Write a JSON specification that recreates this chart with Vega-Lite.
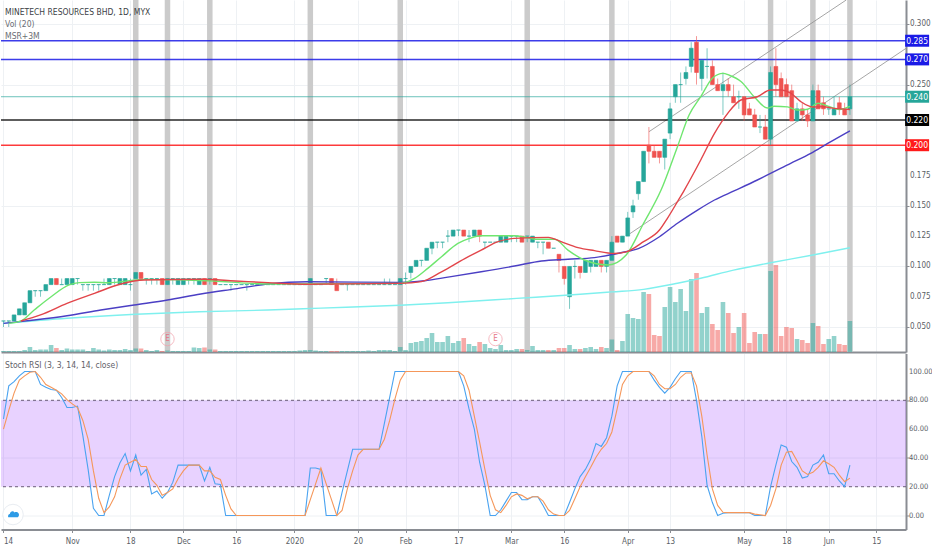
{
  "$schema": "https://vega.github.io/schema/vega-lite/v6.json",
  "background": "white",
  "padding": {"left": 0, "top": -3, "right": 0, "bottom": 0},
  "spacing": 1.5,
  "bounds": "flush",
  "config": {
    "view": {"stroke": null},
    "axis": {"labelFont": "DejaVu Sans Condensed, Roboto", "labelFontSize": 8, "labelColor": "#5a5e66", "title": null, "gridColor": "#eef1f4", "domainColor": "#8a8d93", "domainWidth": 2, "tickColor": "#8a8d93", "tickSize": 3, "labelPadding": 1},
    "text": {"font": "DejaVu Sans Condensed, Roboto"}
  },
  "datasets": {
    "bars": [
      {"n":0,"o":0.055,"h":0.055,"l":0.05,"c":0.055,"v":1,"k":67,"d":60},
      {"n":1,"o":0.055,"h":0.055,"l":0.05,"c":0.055,"v":1,"k":90,"d":73},
      {"n":2,"o":0.055,"h":0.06,"l":0.055,"c":0.06,"v":1,"k":93,"d":85},
      {"n":3,"o":0.06,"h":0.065,"l":0.06,"c":0.065,"v":1,"k":97,"d":94},
      {"n":4,"o":0.06,"h":0.07,"l":0.06,"c":0.07,"v":2,"k":100,"d":97},
      {"n":5,"o":0.07,"h":0.08,"l":0.07,"c":0.08,"v":5,"k":100,"d":99.5},
      {"n":6,"o":0.08,"h":0.08,"l":0.075,"c":0.08,"v":2,"k":100,"d":100},
      {"n":7,"o":0.08,"h":0.08,"l":0.075,"c":0.08,"v":2.5,"k":91,"d":96},
      {"n":8,"o":0.08,"h":0.085,"l":0.08,"c":0.085,"v":2.5,"k":89,"d":91},
      {"n":9,"o":0.085,"h":0.09,"l":0.085,"c":0.09,"v":7,"k":87.5,"d":89},
      {"n":10,"o":0.09,"h":0.09,"l":0.085,"c":0.085,"v":4,"k":87,"d":87},
      {"n":11,"o":0.085,"h":0.09,"l":0.085,"c":0.085,"v":2,"k":82,"d":84.5},
      {"n":12,"o":0.085,"h":0.09,"l":0.085,"c":0.09,"v":3.5,"k":75,"d":80.5},
      {"n":13,"o":0.085,"h":0.09,"l":0.085,"c":0.09,"v":2.5,"k":75,"d":77.5},
      {"n":14,"o":0.09,"h":0.09,"l":0.085,"c":0.09,"v":2.5,"k":76,"d":75},
      {"n":15,"o":0.085,"h":0.085,"l":0.08,"c":0.085,"v":2.5,"k":55.5,"d":66},
      {"n":16,"o":0.085,"h":0.085,"l":0.08,"c":0.085,"v":1,"k":32,"d":53},
      {"n":17,"o":0.085,"h":0.085,"l":0.08,"c":0.085,"v":4,"k":5,"d":31},
      {"n":18,"o":0.085,"h":0.085,"l":0.08,"c":0.085,"v":2.5,"k":0,"d":12},
      {"n":19,"o":0.085,"h":0.09,"l":0.085,"c":0.085,"v":1.5,"k":0,"d":2},
      {"n":20,"o":0.085,"h":0.09,"l":0.085,"c":0.09,"v":2.5,"k":14,"d":6},
      {"n":21,"o":0.09,"h":0.09,"l":0.085,"c":0.09,"v":2,"k":27,"d":13},
      {"n":22,"o":0.085,"h":0.09,"l":0.085,"c":0.09,"v":2,"k":36.5,"d":25.5},
      {"n":23,"o":0.085,"h":0.09,"l":0.085,"c":0.09,"v":3,"k":43,"d":35},
      {"n":24,"o":0.085,"h":0.09,"l":0.08,"c":0.085,"v":2,"k":31,"d":37},
      {"n":25,"o":0.09,"h":0.095,"l":0.09,"c":0.095,"v":3.5,"k":42,"d":39},
      {"n":26,"o":0.095,"h":0.095,"l":0.09,"c":0.09,"v":3.5,"k":28,"d":34},
      {"n":27,"o":0.09,"h":0.09,"l":0.085,"c":0.09,"v":2,"k":32,"d":34},
      {"n":28,"o":0.09,"h":0.09,"l":0.085,"c":0.09,"v":1,"k":15,"d":25},
      {"n":29,"o":0.09,"h":0.09,"l":0.085,"c":0.09,"v":2,"k":17,"d":21},
      {"n":30,"o":0.09,"h":0.09,"l":0.085,"c":0.085,"v":1,"k":12,"d":14},
      {"n":31,"o":0.085,"h":0.09,"l":0.085,"c":0.09,"v":1.5,"k":16,"d":16},
      {"n":32,"o":0.09,"h":0.09,"l":0.085,"c":0.09,"v":1,"k":23,"d":18.5},
      {"n":33,"o":0.085,"h":0.09,"l":0.085,"c":0.09,"v":1,"k":35,"d":25.5},
      {"n":34,"o":0.085,"h":0.09,"l":0.085,"c":0.09,"v":1,"k":35,"d":31},
      {"n":35,"o":0.09,"h":0.09,"l":0.085,"c":0.09,"v":1,"k":35,"d":35},
      {"n":36,"o":0.09,"h":0.09,"l":0.085,"c":0.09,"v":4.5,"k":35,"d":35},
      {"n":37,"o":0.085,"h":0.09,"l":0.085,"c":0.09,"v":4,"k":35,"d":35},
      {"n":38,"o":0.09,"h":0.09,"l":0.085,"c":0.085,"v":4.5,"k":24,"d":31},
      {"n":39,"o":0.09,"h":0.09,"l":0.085,"c":0.09,"v":2.5,"k":33.5,"d":31},
      {"n":40,"o":0.09,"h":0.09,"l":0.085,"c":0.085,"v":2.5,"k":22,"d":26.5},
      {"n":41,"o":0.085,"h":0.085,"l":0.085,"c":0.085,"v":1,"k":21.5,"d":25},
      {"n":42,"o":0.085,"h":0.085,"l":0.085,"c":0.085,"v":1,"k":0,"d":14},
      {"n":43,"o":0.085,"h":0.085,"l":0.08,"c":0.085,"v":1,"k":0,"d":4.6},
      {"n":44,"o":0.085,"h":0.085,"l":0.085,"c":0.085,"v":1,"k":0,"d":0},
      {"n":45,"o":0.085,"h":0.085,"l":0.085,"c":0.085,"v":1,"k":0,"d":0},
      {"n":46,"o":0.085,"h":0.085,"l":0.08,"c":0.085,"v":1,"k":0,"d":0},
      {"n":47,"o":0.085,"h":0.085,"l":0.085,"c":0.085,"v":1,"k":0,"d":0},
      {"n":48,"o":0.085,"h":0.085,"l":0.085,"c":0.085,"v":1,"k":0,"d":0},
      {"n":49,"o":0.085,"h":0.085,"l":0.085,"c":0.085,"v":1,"k":0,"d":0},
      {"n":50,"o":0.085,"h":0.085,"l":0.085,"c":0.085,"v":1,"k":0,"d":0},
      {"n":51,"o":0.085,"h":0.085,"l":0.085,"c":0.085,"v":1,"k":0,"d":0},
      {"n":52,"o":0.085,"h":0.085,"l":0.085,"c":0.085,"v":1,"k":0,"d":0},
      {"n":53,"o":0.085,"h":0.085,"l":0.085,"c":0.085,"v":1,"k":0,"d":0},
      {"n":54,"o":0.085,"h":0.085,"l":0.085,"c":0.085,"v":1,"k":0,"d":0},
      {"n":55,"o":0.085,"h":0.085,"l":0.085,"c":0.085,"v":1,"k":0,"d":0},
      {"n":56,"o":0.085,"h":0.085,"l":0.085,"c":0.085,"v":1.5,"k":0,"d":0},
      {"n":57,"o":0.085,"h":0.085,"l":0.085,"c":0.085,"v":2,"k":0,"d":0},
      {"n":58,"o":0.085,"h":0.09,"l":0.085,"c":0.09,"v":2,"k":33,"d":11},
      {"n":59,"o":0.085,"h":0.085,"l":0.085,"c":0.085,"v":1.5,"k":33,"d":22},
      {"n":60,"o":0.085,"h":0.085,"l":0.085,"c":0.085,"v":1,"k":32,"d":33},
      {"n":61,"o":0.09,"h":0.09,"l":0.085,"c":0.09,"v":1,"k":0,"d":22},
      {"n":62,"o":0.09,"h":0.09,"l":0.085,"c":0.085,"v":1,"k":0,"d":11},
      {"n":63,"o":0.085,"h":0.09,"l":0.08,"c":0.08,"v":1,"k":0,"d":0},
      {"n":64,"o":0.085,"h":0.085,"l":0.085,"c":0.085,"v":1,"k":16,"d":3.5},
      {"n":65,"o":0.085,"h":0.085,"l":0.08,"c":0.085,"v":1,"k":31,"d":18.5},
      {"n":66,"o":0.085,"h":0.085,"l":0.085,"c":0.085,"v":1,"k":46,"d":31},
      {"n":67,"o":0.085,"h":0.085,"l":0.085,"c":0.085,"v":1,"k":46,"d":42},
      {"n":68,"o":0.085,"h":0.085,"l":0.085,"c":0.085,"v":1,"k":46,"d":46},
      {"n":69,"o":0.085,"h":0.085,"l":0.085,"c":0.085,"v":1.5,"k":46,"d":46},
      {"n":70,"o":0.085,"h":0.085,"l":0.085,"c":0.085,"v":1,"k":46,"d":46},
      {"n":71,"o":0.085,"h":0.085,"l":0.085,"c":0.085,"v":2,"k":46,"d":46},
      {"n":72,"o":0.085,"h":0.09,"l":0.085,"c":0.085,"v":2,"k":64,"d":53},
      {"n":73,"o":0.085,"h":0.09,"l":0.085,"c":0.085,"v":2,"k":82,"d":66},
      {"n":74,"o":0.085,"h":0.085,"l":0.085,"c":0.085,"v":1,"k":100,"d":81},
      {"n":75,"o":0.085,"h":0.09,"l":0.085,"c":0.09,"v":5,"k":100,"d":94},
      {"n":76,"o":0.09,"h":0.095,"l":0.085,"c":0.09,"v":2,"k":100,"d":100},
      {"n":77,"o":0.095,"h":0.1,"l":0.09,"c":0.1,"v":9,"k":100,"d":100},
      {"n":78,"o":0.1,"h":0.105,"l":0.1,"c":0.105,"v":10,"k":100,"d":100},
      {"n":79,"o":0.105,"h":0.105,"l":0.1,"c":0.105,"v":11,"k":100,"d":100},
      {"n":80,"o":0.105,"h":0.115,"l":0.105,"c":0.115,"v":14,"k":100,"d":100},
      {"n":81,"o":0.115,"h":0.12,"l":0.11,"c":0.12,"v":19,"k":100,"d":100},
      {"n":82,"o":0.12,"h":0.12,"l":0.115,"c":0.12,"v":10,"k":100,"d":100},
      {"n":83,"o":0.12,"h":0.12,"l":0.115,"c":0.12,"v":10,"k":100,"d":100},
      {"n":84,"o":0.125,"h":0.13,"l":0.12,"c":0.125,"v":16,"k":100,"d":100},
      {"n":85,"o":0.125,"h":0.13,"l":0.125,"c":0.13,"v":9,"k":100,"d":100},
      {"n":86,"o":0.13,"h":0.13,"l":0.125,"c":0.13,"v":11,"k":100,"d":100},
      {"n":87,"o":0.13,"h":0.13,"l":0.125,"c":0.125,"v":14,"k":90,"d":97},
      {"n":88,"o":0.125,"h":0.13,"l":0.12,"c":0.125,"v":8,"k":74,"d":87},
      {"n":89,"o":0.125,"h":0.13,"l":0.125,"c":0.13,"v":6,"k":60,"d":69},
      {"n":90,"o":0.13,"h":0.13,"l":0.12,"c":0.125,"v":10,"k":37,"d":51},
      {"n":91,"o":0.12,"h":0.12,"l":0.115,"c":0.12,"v":8,"k":21,"d":32},
      {"n":92,"o":0.12,"h":0.12,"l":0.12,"c":0.12,"v":4,"k":0,"d":14},
      {"n":93,"o":0.12,"h":0.12,"l":0.12,"c":0.12,"v":3,"k":0,"d":4},
      {"n":94,"o":0.12,"h":0.125,"l":0.12,"c":0.125,"v":7,"k":4,"d":2},
      {"n":95,"o":0.12,"h":0.125,"l":0.12,"c":0.125,"v":2,"k":10,"d":7},
      {"n":96,"o":0.125,"h":0.125,"l":0.12,"c":0.125,"v":2,"k":16,"d":13},
      {"n":97,"o":0.125,"h":0.125,"l":0.12,"c":0.125,"v":3,"k":16,"d":15},
      {"n":98,"o":0.125,"h":0.125,"l":0.12,"c":0.12,"v":3,"k":11,"d":14},
      {"n":99,"o":0.125,"h":0.125,"l":0.12,"c":0.125,"v":2,"k":11,"d":11.6},
      {"n":100,"o":0.12,"h":0.125,"l":0.12,"c":0.125,"v":6,"k":13,"d":13},
      {"n":101,"o":0.12,"h":0.12,"l":0.115,"c":0.12,"v":2,"k":13,"d":13},
      {"n":102,"o":0.12,"h":0.12,"l":0.11,"c":0.12,"v":2,"k":7,"d":10},
      {"n":103,"o":0.12,"h":0.12,"l":0.115,"c":0.115,"v":2,"k":0,"d":4},
      {"n":104,"o":0.115,"h":0.115,"l":0.115,"c":0.115,"v":2,"k":0,"d":1},
      {"n":105,"o":0.11,"h":0.11,"l":0.095,"c":0.105,"v":4,"k":0,"d":0},
      {"n":106,"o":0.1,"h":0.1,"l":0.085,"c":0.09,"v":4,"k":0,"d":0},
      {"n":107,"o":0.075,"h":0.1,"l":0.065,"c":0.1,"v":7,"k":9,"d":3.5},
      {"n":108,"o":0.1,"h":0.105,"l":0.09,"c":0.1,"v":3,"k":18.5,"d":11.6},
      {"n":109,"o":0.1,"h":0.1,"l":0.09,"c":0.095,"v":3,"k":27,"d":20},
      {"n":110,"o":0.095,"h":0.105,"l":0.095,"c":0.105,"v":4,"k":32,"d":27},
      {"n":111,"o":0.1,"h":0.105,"l":0.095,"c":0.105,"v":5,"k":39,"d":33.5},
      {"n":112,"o":0.1,"h":0.105,"l":0.1,"c":0.105,"v":3,"k":50,"d":40.5},
      {"n":113,"o":0.105,"h":0.105,"l":0.095,"c":0.1,"v":5,"k":48,"d":46},
      {"n":114,"o":0.1,"h":0.105,"l":0.095,"c":0.105,"v":4,"k":54,"d":50},
      {"n":115,"o":0.105,"h":0.125,"l":0.105,"c":0.12,"v":12.5,"k":69,"d":58},
      {"n":116,"o":0.125,"h":0.125,"l":0.12,"c":0.12,"v":2,"k":90,"d":74},
      {"n":117,"o":0.12,"h":0.125,"l":0.12,"c":0.125,"v":11,"k":100,"d":91},
      {"n":118,"o":0.125,"h":0.145,"l":0.125,"c":0.14,"v":38,"k":100,"d":97},
      {"n":119,"o":0.145,"h":0.155,"l":0.14,"c":0.15,"v":34,"k":100,"d":100},
      {"n":120,"o":0.16,"h":0.17,"l":0.155,"c":0.17,"v":33,"k":100,"d":100},
      {"n":121,"o":0.17,"h":0.195,"l":0.17,"c":0.195,"v":60,"k":100,"d":100},
      {"n":122,"o":0.2,"h":0.215,"l":0.185,"c":0.195,"v":58,"k":100,"d":100},
      {"n":123,"o":0.195,"h":0.2,"l":0.19,"c":0.19,"v":17,"k":94,"d":97},
      {"n":124,"o":0.195,"h":0.195,"l":0.185,"c":0.19,"v":16,"k":89,"d":91},
      {"n":125,"o":0.19,"h":0.205,"l":0.18,"c":0.205,"v":45,"k":85,"d":88},
      {"n":126,"o":0.21,"h":0.235,"l":0.205,"c":0.23,"v":65,"k":89,"d":88},
      {"n":127,"o":0.24,"h":0.25,"l":0.235,"c":0.25,"v":50,"k":95,"d":91},
      {"n":128,"o":0.25,"h":0.26,"l":0.235,"c":0.25,"v":63,"k":100,"d":96},
      {"n":129,"o":0.255,"h":0.265,"l":0.25,"c":0.26,"v":41,"k":100,"d":99},
      {"n":130,"o":0.265,"h":0.285,"l":0.26,"c":0.28,"v":73,"k":100,"d":99},
      {"n":131,"o":0.285,"h":0.29,"l":0.25,"c":0.26,"v":79,"k":80,"d":90},
      {"n":132,"o":0.255,"h":0.27,"l":0.245,"c":0.27,"v":39,"k":55,"d":69},
      {"n":133,"o":0.265,"h":0.28,"l":0.255,"c":0.265,"v":45,"k":21,"d":42},
      {"n":134,"o":0.265,"h":0.27,"l":0.25,"c":0.25,"v":28,"k":9,"d":18.5},
      {"n":135,"o":0.25,"h":0.255,"l":0.245,"c":0.245,"v":22,"k":0,"d":7},
      {"n":136,"o":0.245,"h":0.26,"l":0.225,"c":0.25,"v":50,"k":1.6,"d":2.3},
      {"n":137,"o":0.25,"h":0.255,"l":0.24,"c":0.245,"v":39,"k":2,"d":2},
      {"n":138,"o":0.24,"h":0.25,"l":0.235,"c":0.235,"v":19,"k":2,"d":2},
      {"n":139,"o":0.24,"h":0.245,"l":0.23,"c":0.24,"v":25,"k":2,"d":2},
      {"n":140,"o":0.24,"h":0.24,"l":0.22,"c":0.225,"v":39,"k":2,"d":2},
      {"n":141,"o":0.23,"h":0.235,"l":0.225,"c":0.225,"v":9,"k":2,"d":2},
      {"n":142,"o":0.225,"h":0.23,"l":0.215,"c":0.215,"v":20,"k":0,"d":1},
      {"n":143,"o":0.215,"h":0.225,"l":0.21,"c":0.215,"v":18,"k":0,"d":0.5},
      {"n":144,"o":0.215,"h":0.225,"l":0.205,"c":0.205,"v":18,"k":0,"d":0},
      {"n":145,"o":0.205,"h":0.265,"l":0.2,"c":0.26,"v":81,"k":20,"d":7},
      {"n":146,"o":0.265,"h":0.28,"l":0.24,"c":0.25,"v":87,"k":35,"d":18.5},
      {"n":147,"o":0.255,"h":0.26,"l":0.24,"c":0.24,"v":16,"k":49,"d":35},
      {"n":148,"o":0.25,"h":0.255,"l":0.24,"c":0.24,"v":25,"k":47.5,"d":44},
      {"n":149,"o":0.245,"h":0.25,"l":0.22,"c":0.22,"v":24,"k":37.5,"d":44.5},
      {"n":150,"o":0.22,"h":0.235,"l":0.22,"c":0.23,"v":13,"k":33.5,"d":38},
      {"n":151,"o":0.23,"h":0.235,"l":0.22,"c":0.225,"v":12,"k":26,"d":31},
      {"n":152,"o":0.225,"h":0.23,"l":0.215,"c":0.22,"v":9,"k":27,"d":28.5},
      {"n":153,"o":0.22,"h":0.25,"l":0.22,"c":0.245,"v":29,"k":35,"d":30},
      {"n":154,"o":0.245,"h":0.25,"l":0.23,"c":0.23,"v":26,"k":37,"d":33.5},
      {"n":155,"o":0.235,"h":0.24,"l":0.225,"c":0.23,"v":8,"k":42,"d":38},
      {"n":156,"o":0.23,"h":0.23,"l":0.225,"c":0.23,"v":13,"k":29,"d":36},
      {"n":157,"o":0.225,"h":0.24,"l":0.225,"c":0.23,"v":16,"k":29,"d":33.5},
      {"n":158,"o":0.235,"h":0.24,"l":0.225,"c":0.23,"v":8,"k":24,"d":28},
      {"n":159,"o":0.23,"h":0.235,"l":0.225,"c":0.225,"v":7,"k":20,"d":23.5},
      {"n":160,"o":0.23,"h":0.25,"l":0.225,"c":0.24,"v":31,"k":35,"d":26}
    ],
    "ma": [
      {"ma":"MA200","n":0,"p":0.053},{"ma":"MA200","n":12,"p":0.0572},{"ma":"MA200","n":25,"p":0.0605},{"ma":"MA200","n":37,"p":0.0626},{"ma":"MA200","n":50,"p":0.064},{"ma":"MA200","n":60,"p":0.0656},{"ma":"MA200","n":75,"p":0.068},{"ma":"MA200","n":84,"p":0.07},{"ma":"MA200","n":97,"p":0.0736},{"ma":"MA200","n":109,"p":0.077},{"ma":"MA200","n":115,"p":0.079},{"ma":"MA200","n":121,"p":0.0811},{"ma":"MA200","n":127.4,"p":0.0861},{"ma":"MA200","n":131.8,"p":0.0902},{"ma":"MA200","n":138,"p":0.097},{"ma":"MA200","n":145,"p":0.103},{"ma":"MA200","n":153,"p":0.1094},{"ma":"MA200","n":160,"p":0.1154},
      {"ma":"MA100","n":0,"p":0.053},{"ma":"MA100","n":5.8,"p":0.0558},{"ma":"MA100","n":12,"p":0.0593},{"ma":"MA100","n":18.4,"p":0.064},{"ma":"MA100","n":24.7,"p":0.0682},{"ma":"MA100","n":31,"p":0.0723},{"ma":"MA100","n":37.3,"p":0.0773},{"ma":"MA100","n":43.8,"p":0.0815},{"ma":"MA100","n":50,"p":0.0855},{"ma":"MA100","n":57.5,"p":0.0874},{"ma":"MA100","n":75,"p":0.0868},{"ma":"MA100","n":79.6,"p":0.0882},{"ma":"MA100","n":84,"p":0.0912},{"ma":"MA100","n":90.3,"p":0.0956},{"ma":"MA100","n":96.6,"p":0.1003},{"ma":"MA100","n":101.7,"p":0.1045},{"ma":"MA100","n":106.7,"p":0.1059},{"ma":"MA100","n":111.7,"p":0.1073},{"ma":"MA100","n":116.7,"p":0.1113},{"ma":"MA100","n":120,"p":0.1147},{"ma":"MA100","n":124,"p":0.1245},{"ma":"MA100","n":127.4,"p":0.1356},{"ma":"MA100","n":131.2,"p":0.1465},{"ma":"MA100","n":134.4,"p":0.1548},{"ma":"MA100","n":138.2,"p":0.1625},{"ma":"MA100","n":142.5,"p":0.1713},{"ma":"MA100","n":148.8,"p":0.185},{"ma":"MA100","n":152.6,"p":0.1933},{"ma":"MA100","n":155.8,"p":0.2015},{"ma":"MA100","n":160,"p":0.2119},
      {"ma":"MA10","n":1,"p":0.053},{"ma":"MA10","n":3.3,"p":0.055},{"ma":"MA10","n":5.8,"p":0.064},{"ma":"MA10","n":9,"p":0.075},{"ma":"MA10","n":12.4,"p":0.0847},{"ma":"MA10","n":14.3,"p":0.0866},{"ma":"MA10","n":17.2,"p":0.087},{"ma":"MA10","n":19.7,"p":0.0865},{"ma":"MA10","n":26.6,"p":0.0893},{"ma":"MA10","n":39.8,"p":0.088},{"ma":"MA10","n":46,"p":0.0862},{"ma":"MA10","n":50,"p":0.0855},{"ma":"MA10","n":75,"p":0.086},{"ma":"MA10","n":77.7,"p":0.0901},{"ma":"MA10","n":80.2,"p":0.0984},{"ma":"MA10","n":82.8,"p":0.108},{"ma":"MA10","n":85.9,"p":0.119},{"ma":"MA10","n":88.1,"p":0.1231},{"ma":"MA10","n":90.3,"p":0.1253},{"ma":"MA10","n":96.6,"p":0.1253},{"ma":"MA10","n":101,"p":0.1224},{"ma":"MA10","n":104.2,"p":0.1224},{"ma":"MA10","n":106.7,"p":0.1135},{"ma":"MA10","n":109.8,"p":0.1053},{"ma":"MA10","n":114.3,"p":0.1012},{"ma":"MA10","n":117.7,"p":0.1094},{"ma":"MA10","n":121,"p":0.1356},{"ma":"MA10","n":124.3,"p":0.163},{"ma":"MA10","n":127.4,"p":0.1988},{"ma":"MA10","n":129.6,"p":0.2249},{"ma":"MA10","n":131.8,"p":0.24},{"ma":"MA10","n":134,"p":0.2553},{"ma":"MA10","n":136,"p":0.2593},{"ma":"MA10","n":137.2,"p":0.2577},{"ma":"MA10","n":139.4,"p":0.2526},{"ma":"MA10","n":141.9,"p":0.24},{"ma":"MA10","n":144.4,"p":0.2307},{"ma":"MA10","n":145.7,"p":0.2322},{"ma":"MA10","n":148.2,"p":0.2316},{"ma":"MA10","n":150,"p":0.229},{"ma":"MA10","n":152,"p":0.2297},{"ma":"MA10","n":154,"p":0.2346},{"ma":"MA10","n":156,"p":0.232},{"ma":"MA10","n":158,"p":0.2295},{"ma":"MA10","n":160,"p":0.232},
      {"ma":"MA20","n":3.3,"p":0.055},{"ma":"MA20","n":7,"p":0.06},{"ma":"MA20","n":12,"p":0.0695},{"ma":"MA20","n":17.2,"p":0.0778},{"ma":"MA20","n":22.2,"p":0.0855},{"ma":"MA20","n":26.6,"p":0.0888},{"ma":"MA20","n":37.3,"p":0.0894},{"ma":"MA20","n":43.8,"p":0.088},{"ma":"MA20","n":50,"p":0.0866},{"ma":"MA20","n":57.5,"p":0.0853},{"ma":"MA20","n":75,"p":0.086},{"ma":"MA20","n":79,"p":0.0875},{"ma":"MA20","n":82.8,"p":0.0956},{"ma":"MA20","n":87.2,"p":0.1065},{"ma":"MA20","n":90.3,"p":0.1135},{"ma":"MA20","n":93.5,"p":0.1204},{"ma":"MA20","n":96.6,"p":0.1231},{"ma":"MA20","n":103,"p":0.124},{"ma":"MA20","n":105.4,"p":0.1204},{"ma":"MA20","n":108.6,"p":0.1155},{"ma":"MA20","n":111.7,"p":0.113},{"ma":"MA20","n":115.4,"p":0.1107},{"ma":"MA20","n":117.7,"p":0.112},{"ma":"MA20","n":121,"p":0.1204},{"ma":"MA20","n":124,"p":0.13},{"ma":"MA20","n":125.5,"p":0.1397},{"ma":"MA20","n":127.4,"p":0.1534},{"ma":"MA20","n":128.7,"p":0.163},{"ma":"MA20","n":131.8,"p":0.1878},{"ma":"MA20","n":134.4,"p":0.2098},{"ma":"MA20","n":136.9,"p":0.2263},{"ma":"MA20","n":139.4,"p":0.2373},{"ma":"MA20","n":142.5,"p":0.24},{"ma":"MA20","n":145,"p":0.2455},{"ma":"MA20","n":147,"p":0.2455},{"ma":"MA20","n":148.8,"p":0.243},{"ma":"MA20","n":150.7,"p":0.236},{"ma":"MA20","n":153,"p":0.2315},{"ma":"MA20","n":155,"p":0.2317},{"ma":"MA20","n":157,"p":0.2304},{"ma":"MA20","n":160,"p":0.2295}
    ],
    "trend": [
      {"id":"upper","n":122,"p":0.2111},{"id":"upper","n":159.3,"p":0.3198},
      {"id":"lower","n":118.3,"p":0.1267},{"id":"lower","n":170.6,"p":0.2799}
    ],
    "levels": [
      {"level":0.2862,"label":"0.285"},
      {"level":0.2708,"label":"0.270"},
      {"level":0.24,"label":"0.240"},
      {"level":0.2208,"label":"0.220"},
      {"level":0.2,"label":"0.200"}
    ],
    "priceTicks": [{"p":0.05},{"p":0.075},{"p":0.1},{"p":0.125},{"p":0.15},{"p":0.175},{"p":0.25},{"p":0.3}],
    "rsiTicks": [{"v":0},{"v":20},{"v":40},{"v":60},{"v":80},{"v":100}],
    "sessions": [{"n":25},{"n":31},{"n":39},{"n":58},{"n":75},{"n":99},{"n":115},{"n":145},{"n":153},{"n":160}],
    "earnings": [{"n":31,"p":0.0401,"t":"E"},{"n":93,"p":0.0401,"t":"E"}]
  },
  "vconcat": [
    {
      "width": 905,
      "height": 352,
      "resolve": {"scale": {"y": "independent"}},
      "layer": [
        {
          "data": {"name": "sessions"},
          "mark": {"type": "rule", "color": "#cbcbcb", "strokeWidth": 5.5},
          "encoding": {
            "x": {"field": "n", "type": "quantitative", "scale": {"domain": [-0.47, 170.6], "nice": false, "zero": false, "padding": 0},
              "axis": {"values": [0,13,24,34,44,55,67,76,86,96,106,118,126,140,148,156,165], "labels": false, "ticks": false, "grid": true}}
          }
        },
        {
          "data": {"name": "bars"},
          "mark": {"type": "bar", "size": 4.6, "opacity": 0.5},
          "encoding": {
            "x": {"field": "n", "type": "quantitative"},
            "y": {"field": "v", "type": "quantitative", "scale": {"domain": [0, 352]}, "axis": null},
            "color": {"condition": {"test": "datum.c >= datum.o", "value": "#26a69a"}, "value": "#ef5350"}
          }
        },
        {
          "layer": [
            {
              "data": {"name": "trend"},
              "mark": {"type": "line", "color": "#8f8f8f", "strokeWidth": 0.8, "clip": true},
              "encoding": {
                "x": {"field": "n", "type": "quantitative"},
                "y": {"field": "p", "type": "quantitative", "scale": {"domain": [0.0294, 0.3198], "nice": false, "zero": false},
                  "axis": {"orient": "right", "values": [0.05,0.075,0.1,0.125,0.15,0.175,0.2,0.225,0.25,0.275,0.3], "labels": false, "grid": true}},
                "detail": {"field": "id"}
              }
            },
            {
              "data": {"name": "levels"},
              "mark": {"type": "rule", "opacity": 0.85},
              "encoding": {
                "y": {"field": "level", "type": "quantitative"},
                "color": {"field": "label", "type": "nominal", "legend": null,
                  "scale": {"domain": ["0.285","0.270","0.240","0.220","0.200","MA200","MA100","MA10","MA20"], "range": ["#1a1ae6","#1a1ae6","#26a69a","#000000","#ff1a1a","#7ff0ee","#4b3fc4","#6fe66f","#e2454a"]}},
                "strokeWidth": {"condition": {"test": "datum.label === '0.240'", "value": 0.8}, "value": 1.5}
              }
            },
            {
              "data": {"name": "bars"},
              "mark": {"type": "rule", "strokeWidth": 0.8, "opacity": 0.75},
              "encoding": {
                "x": {"field": "n", "type": "quantitative"},
                "y": {"field": "l", "type": "quantitative"},
                "y2": {"field": "h"},
                "color": {"condition": {"test": "datum.c >= datum.o", "value": "#26a69a"}, "value": "#ef5350"}
              }
            },
            {
              "data": {"name": "bars"},
              "mark": {"type": "bar", "size": 3.8, "orient": "vertical", "strokeWidth": 0.6},
              "encoding": {
                "x": {"field": "n", "type": "quantitative"},
                "y": {"field": "o", "type": "quantitative"},
                "y2": {"field": "c"},
                "color": {"condition": {"test": "datum.c >= datum.o", "value": "#26a69a"}, "value": "#ef5350"},
                "stroke": {"condition": {"test": "datum.c >= datum.o", "value": "#26a69a"}, "value": "#ef5350"}
              }
            },
            {
              "data": {"name": "ma"},
              "mark": {"type": "line", "strokeWidth": 1.4, "interpolate": "monotone"},
              "encoding": {
                "x": {"field": "n", "type": "quantitative"},
                "y": {"field": "p", "type": "quantitative"},
                "color": {"field": "ma", "type": "nominal", "legend": null}
              }
            },
            {
              "data": {"name": "priceTicks"},
              "mark": {"type": "text", "align": "left", "dx": 4, "fontSize": 8, "color": "#5a5e66"},
              "encoding": {
                "x": {"datum": 170.6, "type": "quantitative"},
                "y": {"field": "p", "type": "quantitative"},
                "text": {"field": "p", "type": "quantitative", "format": ".3f"}
              }
            },
            {
              "data": {"name": "levels"},
              "mark": {"type": "tick", "orient": "horizontal", "size": 24, "thickness": 12, "opacity": 1, "clip": false},
              "encoding": {
                "x": {"datum": 172.7, "type": "quantitative"},
                "y": {"field": "level", "type": "quantitative"},
                "color": {"field": "label", "type": "nominal", "legend": null}
              }
            },
            {
              "data": {"name": "levels"},
              "mark": {"type": "text", "color": "white", "fontSize": 8.5},
              "encoding": {
                "x": {"datum": 172.7, "type": "quantitative"},
                "y": {"field": "level", "type": "quantitative"},
                "text": {"field": "label"}
              }
            },
            {
              "data": {"name": "earnings"},
              "mark": {"type": "point", "shape": "circle", "size": 180, "color": "#f3a0ab", "strokeWidth": 1, "filled": false},
              "encoding": {
                "x": {"field": "n", "type": "quantitative"},
                "y": {"field": "p", "type": "quantitative"}
              }
            },
            {
              "data": {"name": "earnings"},
              "mark": {"type": "text", "color": "#e57686", "fontSize": 8},
              "encoding": {
                "x": {"field": "n", "type": "quantitative"},
                "y": {"field": "p", "type": "quantitative"},
                "text": {"field": "t"}
              }
            },
            {
              "data": {"values": [
                {"n":0.3,"p":0.3099,"t":"MINETECH RESOURCES BHD, 1D, MYX","c":"a"},
                {"n":0.3,"p":0.3,"t":"Vol (20)","c":"b"},
                {"n":0.3,"p":0.2905,"t":"MSR+3M","c":"b"}
              ]},
              "mark": {"type": "text", "align": "left", "fontSize": 8.5},
              "encoding": {
                "x": {"field": "n", "type": "quantitative"},
                "y": {"field": "p", "type": "quantitative"},
                "text": {"field": "t"},
                "color": {"condition": {"test": "datum.c === 'a'", "value": "#3c3f46"}, "value": "#6a6d74"}
              }
            }
          ]
        }
      ]
    },
    {
      "width": 905,
      "height": 176,
      "layer": [
        {
          "data": {"values": [{"lo": 20, "hi": 80}]},
          "mark": {"type": "rect", "color": "#8a20ff", "opacity": 0.2},
          "encoding": {
            "y": {"field": "lo", "type": "quantitative", "scale": {"domain": [-9.7, 112.5], "nice": false, "zero": false},
              "axis": {"orient": "right", "values": [0,20,40,60,80,100], "labels": false, "grid": true}},
            "y2": {"field": "hi"}
          }
        },
        {
          "data": {"values": [{"v": 20}, {"v": 80}]},
          "mark": {"type": "rule", "color": "#6b5d78", "strokeDash": [3, 3], "strokeWidth": 1},
          "encoding": {"y": {"field": "v", "type": "quantitative"}}
        },
        {
          "data": {"name": "bars"},
          "mark": {"type": "line", "color": "#4aa3f0", "strokeWidth": 1.1},
          "encoding": {
            "x": {"field": "n", "type": "quantitative", "scale": {"domain": [-0.47, 170.6], "nice": false, "zero": false},
              "axis": {"values": [0,13,24,34,44,55,67,76,86,96,106,118,126,140,148,156,165], "grid": true, "labelPadding": 5,
                "labelAlign": {"condition": {"test": "datum.value === 0", "value": "left"}, "value": "center"},
                "labelExpr": "{'0':'14','13':'Nov','24':'18','34':'Dec','44':'16','55':'2020','67':'20','76':'Feb','86':'17','96':'Mar','106':'16','118':'Apr','126':'13','140':'May','148':'18','156':'Jun','165':'15'}[datum.value]"}},
            "y": {"field": "k", "type": "quantitative"}
          }
        },
        {
          "data": {"name": "bars"},
          "mark": {"type": "line", "color": "#f5975a", "strokeWidth": 1.1},
          "encoding": {
            "x": {"field": "n", "type": "quantitative"},
            "y": {"field": "d", "type": "quantitative"}
          }
        },
        {
          "data": {"name": "rsiTicks"},
          "mark": {"type": "text", "align": "left", "dx": 3, "fontSize": 7.5, "color": "#5a5e66"},
          "encoding": {
            "x": {"datum": 170.6, "type": "quantitative"},
            "y": {"field": "v", "type": "quantitative"},
            "text": {"field": "v", "type": "quantitative", "format": ".2f"}
          }
        },
        {
          "data": {"values": [{"n": 0.3, "v": 104.2, "t": "Stoch RSI (3, 3, 14, 14, close)"}]},
          "mark": {"type": "text", "align": "left", "fontSize": 8.5, "color": "#5f6269"},
          "encoding": {
            "x": {"field": "n", "type": "quantitative"},
            "y": {"field": "v", "type": "quantitative"},
            "text": {"field": "t"}
          }
        },
        {
          "data": {"values": [{"n": 1.8, "v": 0.7}]},
          "mark": {"type": "point", "shape": "circle", "size": 420, "filled": true, "fill": "white", "stroke": "#e9edf2", "strokeWidth": 1, "opacity": 1},
          "encoding": {
            "x": {"field": "n", "type": "quantitative"},
            "y": {"field": "v", "type": "quantitative"}
          }
        },
        {
          "data": {"values": [{"n": 1.8, "v": 0.7}]},
          "mark": {"type": "point", "shape": "M-0.9,0.5 A0.4,0.4 0 0 1 -0.6,-0.1 A0.5,0.5 0 0 1 0.3,-0.4 A0.5,0.5 0 0 1 0.9,0.5 Z", "size": 110, "filled": true, "fill": "#2e9be6", "opacity": 1},
          "encoding": {
            "x": {"field": "n", "type": "quantitative"},
            "y": {"field": "v", "type": "quantitative"}
          }
        }
      ]
    }
  ]
}
